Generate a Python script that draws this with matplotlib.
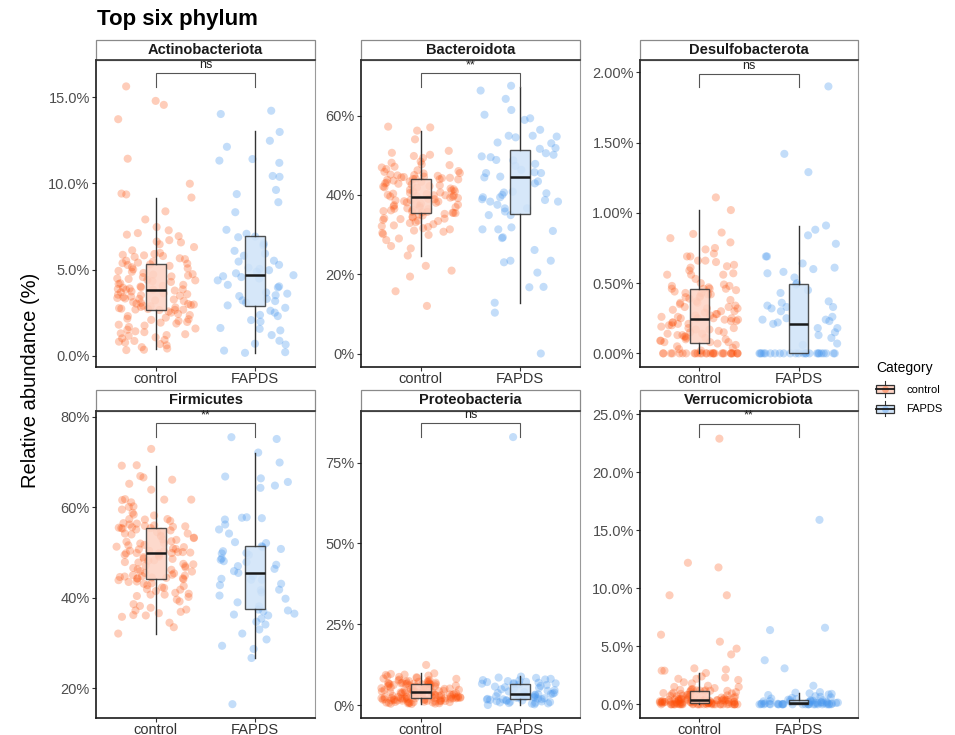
import numpy as np
import matplotlib
matplotlib.use("Agg")
import matplotlib.pyplot as plt
from matplotlib.patches import Rectangle
from matplotlib.lines import Line2D
from matplotlib.legend_handler import HandlerBase

plt.rcParams['font.family'] = ['Liberation Sans', 'DejaVu Sans']

# ---------------- data (relative abundance, %) ----------------
categories = ["control", "FAPDS"]
phyla = ["Actinobacteriota", "Bacteroidota", "Desulfobacterota",
         "Firmicutes", "Proteobacteria", "Verrucomicrobiota"]
signif = ["ns", "**", "ns", "**", "ns", "**"]

act_ctrl = [15.62, 14.78, 14.55, 13.72, 11.43, 9.98, 9.41, 9.36, 9.18, 8.38, 7.91, 7.47, 7.28, 7.12, 7.03,
            6.94, 6.71, 6.63, 6.58, 6.47, 6.31, 6.12, 5.97, 5.91, 5.83, 5.79, 5.74, 5.66, 5.61, 5.52, 5.47,
            5.41, 5.38, 5.35, 5.31, 5.27, 5.22, 5.14, 5.08, 5.02, 4.93, 4.88, 4.81, 4.72, 4.66, 4.61, 4.57,
            4.49, 4.46, 4.38, 4.33, 4.29, 4.21, 4.17, 4.12, 4.06, 4.02, 3.98, 3.95, 3.91, 3.88, 3.86, 3.85,
            3.84, 3.79, 3.74, 3.69, 3.63, 3.58, 3.55, 3.49, 3.44, 3.41, 3.36, 3.31, 3.27, 3.22, 3.18, 3.12,
            3.08, 3.03, 2.98, 2.95, 2.91, 2.88, 2.84, 2.81, 2.77, 2.74, 2.72, 2.69, 2.68, 2.67, 2.66, 2.58,
            2.51, 2.44, 2.37, 2.31, 2.22, 2.16, 2.09, 2.03, 1.97, 1.88, 1.81, 1.76, 1.68, 1.59, 1.52, 1.43,
            1.38, 1.31, 1.26, 1.21, 1.17, 1.08, 1.02, 0.93, 0.87, 0.83, 0.78, 0.69, 0.62, 0.51, 0.43, 0.36,
            0.34, 3.52, 4.41, 2.13, 3.33, 5.86, 1.93, 4.74, 3.01]
act_fapds = [14.21, 14.02, 12.98, 12.47, 12.12, 11.41, 11.32, 11.19, 10.43, 10.38, 9.62, 9.38, 8.91, 8.33,
             7.31, 7.08, 6.92, 6.88, 6.52, 6.41, 6.09, 5.93, 5.81, 5.52, 5.47, 5.28, 5.11, 5.04, 4.97, 4.88,
             4.79, 4.68, 4.62, 4.57, 4.49, 4.38, 4.12, 4.03, 3.97, 3.68, 3.61, 3.52, 3.47, 3.31, 3.22, 3.18,
             3.09, 2.93, 2.79, 2.62, 2.51, 2.38, 2.31, 2.08, 1.99, 1.62, 1.57, 1.48, 1.21, 0.88, 0.71, 0.66,
             0.31, 0.22, 0.18]

bac_ctrl = [57.2, 57.0, 56.2, 54.0, 51.1, 50.6, 50.1, 49.8, 49.3, 48.4, 48.1, 47.7, 47.5, 47.1, 46.9, 46.5,
            46.2, 46.0, 45.8, 45.5, 45.4, 45.1, 45.0, 44.9, 44.8, 44.6, 44.5, 44.4, 44.3, 44.2, 44.1, 44.0,
            43.95, 43.9, 43.8, 43.6, 43.4, 43.3, 43.1, 42.9, 42.8, 42.6, 42.4, 42.2, 42.1, 41.9, 41.8, 41.6,
            41.4, 41.3, 41.1, 40.9, 40.8, 40.6, 40.5, 40.3, 40.2, 40.0, 39.9, 39.9, 39.8, 39.7, 39.6, 39.5,
            39.3, 39.2, 39.0, 38.9, 38.7, 38.6, 38.4, 38.3, 38.1, 38.0, 37.8, 37.7, 37.5, 37.4, 37.2, 37.1,
            36.9, 36.8, 36.6, 36.5, 36.4, 36.2, 36.1, 35.9, 35.8, 35.7, 35.6, 35.5, 35.45, 35.4, 35.2, 35.0,
            34.8, 34.5, 34.3, 34.1, 34.0, 33.9, 33.7, 33.5, 33.4, 33.1, 32.9, 32.6, 32.3, 32.1, 31.9, 31.6,
            31.3, 31.0, 30.7, 30.4, 30.1, 29.9, 29.0, 28.6, 27.1, 26.5, 24.7, 22.1, 20.9, 19.4, 15.7, 12.0]
bac_fapds = [66.3, 67.5, 64.2, 61.4, 60.2, 58.9, 59.3, 56.4, 54.7, 54.9, 54.9, 54.5, 53.2, 53.0, 51.6, 51.8,
             50.5, 50.1, 49.5, 49.7, 48.8, 48.7, 47.8, 47.3, 46.3, 45.5, 45.5, 45.7, 44.4, 44.6, 43.4, 42.9,
             40.8, 40.6, 40.4, 40.0, 39.4, 39.4, 38.9, 38.7, 38.3, 38.3, 37.5, 36.6, 36.6, 35.8, 34.9, 34.9,
             31.8, 31.3, 31.3, 30.9, 29.3, 29.1, 26.1, 23.4, 23.0, 23.4, 20.4, 16.8, 16.7, 12.8, 10.3, 0.0]

des_ctrl = [1.11, 1.02, 0.86, 0.85, 0.82, 0.79, 0.75, 0.74, 0.71, 0.69, 0.69, 0.66, 0.66, 0.65, 0.63, 0.62,
            0.61, 0.59, 0.57, 0.56, 0.56, 0.56, 0.53, 0.50, 0.49, 0.48, 0.48, 0.47, 0.46, 0.46, 0.46, 0.46,
            0.45, 0.44, 0.43, 0.43, 0.42, 0.42, 0.41, 0.40, 0.40, 0.39, 0.38, 0.37, 0.36, 0.36, 0.35, 0.34,
            0.33, 0.33, 0.32, 0.32, 0.31, 0.30, 0.30, 0.29, 0.28, 0.28, 0.27, 0.27, 0.26, 0.26, 0.25, 0.25,
            0.25, 0.25, 0.24, 0.24, 0.23, 0.23, 0.22, 0.22, 0.21, 0.21, 0.20, 0.20, 0.19, 0.18, 0.18, 0.17,
            0.17, 0.16, 0.15, 0.15, 0.14, 0.14, 0.13, 0.13, 0.12, 0.12, 0.11, 0.11, 0.10, 0.10, 0.09, 0.09,
            0.08, 0.08, 0.08, 0.07, 0.06, 0.05, 0.04, 0.03, 0.02,
            0.0, 0.0, 0.0, 0.0, 0.0, 0.0, 0.0, 0.0, 0.0, 0.0, 0.0, 0.0, 0.0, 0.0, 0.0, 0.0, 0.0, 0.0, 0.0,
            0.0, 0.0, 0.0, 0.0, 0.0, 0.0, 0.0, 0.0, 0.0, 0.0]
des_fapds = [1.90, 1.42, 1.29, 0.91, 0.88, 0.84, 0.78, 0.69, 0.69, 0.64, 0.61, 0.60, 0.58, 0.57, 0.54, 0.50,
             0.49, 0.45, 0.43, 0.37, 0.36, 0.34, 0.33, 0.33, 0.32, 0.30, 0.26, 0.25, 0.24, 0.24, 0.23, 0.22,
             0.21, 0.18, 0.18, 0.15, 0.13, 0.11, 0.07, 0.06,
             0.0, 0.0, 0.0, 0.0, 0.0, 0.0, 0.0, 0.0, 0.0, 0.0, 0.0, 0.0, 0.0, 0.0, 0.0, 0.0, 0.0, 0.0, 0.0,
             0.0, 0.0, 0.0, 0.0, 0.0]

fir_ctrl = [72.9, 69.2, 69.3, 66.9, 66.6, 66.1, 65.2, 63.9, 61.7, 61.7, 61.8, 61.6, 61.1, 60.2, 60.1, 59.5,
            58.8, 58.4, 58.2, 57.4, 57.3, 57.4, 56.5, 56.4, 56.2, 56.0, 55.8, 55.7, 55.6, 55.5, 55.4, 55.4,
            55.9, 57.0, 55.3, 55.1, 54.9, 54.6, 54.5, 54.2, 54.2, 54.0, 53.7, 53.6, 53.3, 53.2, 52.9, 52.8,
            52.5, 52.4, 52.1, 52.0, 51.7, 51.6, 51.3, 51.2, 50.9, 50.8, 50.7, 50.4, 50.4, 50.3, 50.1, 50.1,
            50.0, 49.9, 49.9, 49.85, 49.8, 49.5, 49.4, 49.1, 49.0, 48.7, 48.6, 48.3, 48.2, 47.9, 47.8, 47.5,
            47.4, 47.1, 47.0, 46.7, 46.6, 46.3, 46.2, 45.9, 45.8, 45.5, 45.4, 45.1, 45.0, 44.9, 44.8, 44.7,
            44.6, 44.5, 44.4, 44.3, 44.3, 44.25, 44.1, 43.9, 43.6, 43.5, 43.2, 43.1, 42.8, 42.6, 42.3, 42.2,
            41.9, 41.8, 41.5, 41.1, 40.9, 40.7, 40.7, 40.4, 40.2, 39.6, 39.2, 38.6, 37.8, 37.4, 37.2, 36.9,
            36.6, 36.2, 36.1, 35.8, 34.5, 33.5, 32.1, 38.2]
fir_fapds = [75.1, 75.5, 72.1, 69.9, 66.4, 66.8, 65.6, 64.8, 64.3, 57.7, 57.6, 57.8, 57.3, 56.2, 55.1, 54.2,
             52.3, 52.1, 51.4, 51.2, 50.8, 50.3, 49.9, 49.8, 49.5, 48.7, 48.4, 48.1, 47.9, 47.3, 47.0, 46.4,
             45.9, 45.5, 44.8, 44.2, 44.0, 44.0, 43.1, 42.8, 41.8, 41.7, 41.2, 40.5, 39.8, 39.0, 38.1, 37.4,
             37.2, 37.0, 36.5, 36.3, 36.1, 35.4, 34.7, 34.1, 33.0, 32.1, 30.8, 29.4, 28.7, 26.7, 16.5]

pro_ctrl = [12.4, 9.8, 9.6, 9.4, 9.3, 9.1, 8.9, 8.7, 8.6, 8.4, 8.2, 8.1, 7.9, 7.8, 7.6, 7.5, 7.4, 7.3, 7.2,
            7.1, 7.0, 6.9, 6.9, 6.8, 6.7, 6.7, 6.6, 6.6, 6.5, 6.5, 6.5, 6.45, 6.4, 6.4, 6.3, 6.2, 6.1, 6.0,
            5.9, 5.8, 5.7, 5.6, 5.5, 5.4, 5.3, 5.2, 5.1, 5.0, 4.9, 4.8, 4.8, 4.7, 4.6, 4.5, 4.5, 4.4, 4.3,
            4.3, 4.2, 4.1, 4.1, 4.0, 4.0, 3.95, 3.95, 3.9, 3.9, 3.9, 3.8, 3.7, 3.6, 3.5, 3.4, 3.35, 3.3, 3.2,
            3.1, 3.05, 3.0, 2.9, 2.85, 2.8, 2.7, 2.65, 2.6, 2.55, 2.5, 2.45, 2.4, 2.35, 2.3, 2.25, 2.2, 2.2,
            2.15, 2.1, 2.1, 2.08, 2.07, 2.06, 2.06, 2.06, 2.0, 1.95, 1.9, 1.85, 1.8, 1.75, 1.7, 1.65, 1.6,
            1.55, 1.5, 1.45, 1.4, 1.35, 1.3, 1.25, 1.2, 1.15, 1.1, 1.05, 1.0, 0.95, 0.9, 0.85, 0.8, 0.75,
            0.7, 0.65, 0.6, 0.55, 0.5, 0.45, 0.4, 0.3]
pro_fapds = [82.9, 8.8, 8.5, 8.4, 8.1, 7.9, 7.7, 7.6, 7.4, 7.2, 7.1, 6.9, 6.8, 6.7, 6.6, 6.5, 6.4, 6.2, 5.9,
             5.7, 5.5, 5.3, 5.1, 4.9, 4.6, 4.4, 4.2, 4.0, 3.8, 3.7, 3.5, 3.4, 3.3, 3.2, 3.0, 2.9, 2.8, 2.7,
             2.6, 2.5, 2.4, 2.3, 2.2, 2.1, 2.0, 1.9, 1.8, 1.75, 1.7, 1.6, 1.5, 1.4, 1.3, 1.2, 1.1, 1.0, 0.9,
             0.8, 0.7, 0.6, 0.5, 0.4, 0.2, 0.0]

ver_ctrl = [22.9, 12.2, 11.8, 9.4, 9.4, 6.0, 5.4, 4.8, 4.3, 3.1, 3.0, 2.9, 2.9, 2.7, 2.4, 2.3, 2.2, 2.2, 2.1,
            1.9, 1.8, 1.6, 1.5, 1.5, 1.4, 1.3, 1.3, 1.25, 1.2, 1.2, 1.2, 1.18, 1.17, 1.16, 1.12, 1.08, 1.05,
            1.0, 0.97, 0.94, 0.9, 0.88, 0.85, 0.82, 0.8, 0.77, 0.74, 0.71, 0.69, 0.66, 0.63, 0.61, 0.58,
            0.56, 0.54, 0.52, 0.5, 0.48, 0.46, 0.45, 0.43, 0.42, 0.41, 0.4, 0.39, 0.38, 0.38, 0.37, 0.36,
            0.35, 0.34, 0.33, 0.32, 0.31, 0.3, 0.29, 0.28, 0.27, 0.26, 0.26, 0.25, 0.24, 0.23, 0.22, 0.22,
            0.21, 0.2, 0.2, 0.19, 0.18, 0.18, 0.17, 0.16, 0.16, 0.15, 0.15, 0.14, 0.14, 0.13, 0.12, 0.1,
            0.09, 0.08, 0.07, 0.06, 0.05, 0.04, 0.03, 0.02, 0.01,
            0.0, 0.0, 0.0, 0.0, 0.0, 0.0, 0.0, 0.0, 0.0, 0.0, 0.0, 0.0, 0.0, 0.0, 0.0, 0.0, 0.0, 0.0, 0.0,
            0.0, 0.0, 0.0, 0.0, 0.0, 0.0, 0.0]
ver_fapds = [15.9, 6.6, 6.4, 3.8, 3.1, 1.6, 1.05, 1.0, 0.95, 0.9, 0.85, 0.8, 0.7, 0.65, 0.6, 0.55, 0.5,
             0.45, 0.4, 0.38, 0.36, 0.34, 0.32, 0.3, 0.28, 0.26, 0.24, 0.22, 0.2, 0.19, 0.17, 0.16, 0.15,
             0.14, 0.13, 0.12, 0.1, 0.09, 0.08, 0.07, 0.06, 0.05, 0.04, 0.03, 0.02, 0.01,
             0.0, 0.0, 0.0, 0.0, 0.0, 0.0, 0.0, 0.0, 0.0, 0.0, 0.0, 0.0, 0.0, 0.0, 0.0, 0.0, 0.0, 0.0, 0.0,
             0.0, 0.0]

# box statistics: [whisker low, Q1, median, Q3, whisker high]
box_ctrl = [[0.39, 2.67, 3.84, 5.33, 9.17],
            [24.6, 35.4, 39.4, 43.9, 56.0],
            [0.0, 0.071, 0.244, 0.455, 1.02],
            [32.1, 44.24, 49.84, 55.36, 69.2],
            [0.3, 2.06, 3.9, 6.4, 9.8],
            [0.0, 0.14, 0.37, 1.15, 2.72]]
box_fapds = [[0.19, 2.87, 4.71, 6.94, 13.04],
             [12.8, 35.3, 44.4, 51.2, 67.2],
             [0.0, 0.0, 0.209, 0.491, 0.906],
             [26.7, 37.5, 45.5, 51.5, 72.1],
             [0.0, 1.75, 3.4, 6.5, 9.0],
             [0.0, 0.0, 0.11, 0.37, 0.95]]
# significance bracket: [end of legs, top bar]
brackets = [[15.6, 16.4], [67.2, 70.7], [1.893, 1.988], [75.5, 78.55], [82.9, 87.1], [23.0, 24.2]]

ctrl_data = [act_ctrl, bac_ctrl, des_ctrl, fir_ctrl, pro_ctrl, ver_ctrl]
fapds_data = [act_fapds, bac_fapds, des_fapds, fir_fapds, pro_fapds, ver_fapds]

# ---------------- layout / style ----------------
yticks = [[0, 5, 10, 15], [0, 20, 40, 60], [0, 0.5, 1.0, 1.5, 2.0],
          [20, 40, 60, 80], [0, 25, 50, 75], [0, 5, 10, 15, 20, 25]]
ydec = [1, 0, 2, 0, 0, 1]
ylims = [(-0.64, 17.15), (-3.4, 74.0), (-0.097, 2.088),
         (13.44, 81.35), (-4.02, 91.06), (-1.18, 25.31)]

W, H = 955, 735
cols_px = [(96, 315), (361, 580), (640, 858)]
rows_px = [(60, 367), (410.7, 718)]
strip_px = 20.5

col_ctrl = '#FC4E07'
col_fapds = '#4A98EE'
fill_ctrl = '#FDD3C4'
fill_fapds = '#CFE3F8'

fig = plt.figure(figsize=(W / 100, H / 100), dpi=100)
rng = np.random.default_rng(11)

for i, name in enumerate(phyla):
    r, c = divmod(i, 3)
    x0, x1 = cols_px[c]
    y0, y1 = rows_px[r]
    ax = fig.add_axes([x0 / W, 1 - y1 / H, (x1 - x0) / W, (y1 - y0) / H])
    ax.set_xlim(0.4, 2.6)
    ax.set_ylim(*ylims[i])

    for k, (vals, pc, al) in enumerate([(ctrl_data[i], col_ctrl, 0.28),
                                        (fapds_data[i], col_fapds, 0.33)]):
        v = np.asarray(vals, dtype=float)
        xj = (k + 1) + rng.uniform(-0.4, 0.4, len(v))
        ax.scatter(xj, v, s=34, color=pc, alpha=al, edgecolors='none', zorder=2)

    stats = []
    for bs in (box_ctrl[i], box_fapds[i]):
        stats.append(dict(whislo=bs[0], q1=bs[1], med=bs[2], q3=bs[3], whishi=bs[4], fliers=[]))
    bp = ax.bxp(stats, positions=[1, 2], widths=0.2, showcaps=False, showfliers=False,
                patch_artist=True, manage_ticks=False,
                boxprops=dict(edgecolor='#333333', linewidth=1.0),
                whiskerprops=dict(color='#333333', linewidth=1.0),
                medianprops=dict(color='#1a1a1a', linewidth=1.8))
    for patch, fc in zip(bp['boxes'], [fill_ctrl, fill_fapds]):
        patch.set_facecolor(fc)
        patch.set_alpha(0.85)
        patch.set_edgecolor('#333333')
        patch.set_zorder(3)
    for ln in bp['whiskers'] + bp['medians']:
        ln.set_zorder(4)

    # significance bracket
    b_end, b_top = brackets[i]
    ax.plot([1, 1, 2, 2], [b_end, b_top, b_top, b_end], color='#555555', lw=0.8,
            zorder=5, solid_joinstyle='miter')
    ax.annotate(signif[i], xy=(1.5, b_top), xytext=(0, 1.5), textcoords='offset points',
                ha='center', va='bottom', fontsize=9, color='#222222')

    # axes styling
    ax.set_xticks([1, 2])
    ax.set_xticklabels(categories, fontsize=10.5, color='#333333')
    ax.set_yticks(yticks[i])
    d = ydec[i]
    ax.set_yticklabels([f"{t:.{d}f}%" for t in yticks[i]], fontsize=10.5, color='#4D4D4D')
    ax.tick_params(axis='both', length=3, width=0.8, color='#333333', pad=1.5)
    ax.tick_params(axis='x', pad=0.5)
    for side in ('left', 'bottom'):
        ax.spines[side].set_color('#1a1a1a')
        ax.spines[side].set_linewidth(1.2)
    ax.spines['top'].set_color('#333333')
    ax.spines['top'].set_linewidth(1.2)
    ax.spines['right'].set_color('#9a9a9a')
    ax.spines['right'].set_linewidth(0.8)

    # facet strip
    sh = strip_px / (y1 - y0)
    ax.add_patch(Rectangle((0, 1), 1, sh, transform=ax.transAxes, clip_on=False,
                           facecolor='white', edgecolor='#8a8a8a', lw=0.9, zorder=1))
    ax.text(0.5, 1 + sh / 2, name, transform=ax.transAxes, ha='center', va='center',
            fontsize=10.5, fontweight='bold', color='#1a1a1a')

fig.text(97 / W, 1 - 20 / H, 'Top six phylum', fontsize=16, fontweight='bold',
         ha='left', va='center', color='black')
fig.text(31 / W, 1 - 380 / H, 'Relative abundance (%)', rotation=90, fontsize=14.5,
         ha='center', va='center', color='black')


# ---------------- legend ----------------
class BoxKey:
    def __init__(self, fill, point):
        self.fill = fill
        self.point = point


class HandlerBoxKey(HandlerBase):
    def create_artists(self, legend, orig_handle, xdescent, ydescent, width, height, fontsize, trans):
        cx = -xdescent + width / 2
        bw = width * 0.95
        bh = height * 0.8
        bx = cx - bw / 2
        by = -ydescent + (height - bh) / 2
        ym = -ydescent + height / 2
        wh = Line2D([cx, cx], [-ydescent - height * 0.3, -ydescent + height * 1.3],
                    color='#333333', lw=0.8, transform=trans)
        rect = Rectangle((bx, by), bw, bh, facecolor=orig_handle.fill, edgecolor='#333333',
                         lw=0.9, transform=trans)
        pt = Line2D([cx], [ym], marker='o', ms=5, ls='none', color=orig_handle.point,
                    alpha=0.35, markeredgewidth=0, transform=trans)
        med = Line2D([bx, bx + bw], [ym, ym], color='#1a1a1a', lw=1.3, transform=trans)
        return [wh, rect, pt, med]


handles = [BoxKey(fill_ctrl, col_ctrl), BoxKey(fill_fapds, col_fapds)]
leg = fig.legend(handles, categories, title='Category', loc='upper left',
                 bbox_to_anchor=(876 / W, 1 - 361 / H), frameon=False, fontsize=8,
                 title_fontsize=10, handlelength=1.7, handleheight=1.0, labelspacing=0.8,
                 handletextpad=1.0, borderpad=0, borderaxespad=0, alignment='left',
                 handler_map={BoxKey: HandlerBoxKey()})

fig.savefig('out.png', dpi=100)
